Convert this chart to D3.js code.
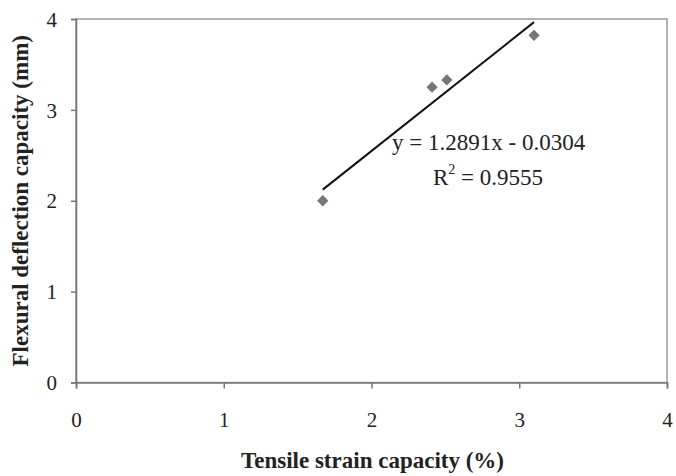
<!DOCTYPE html>
<html><head><meta charset="utf-8">
<script src="https://cdn.jsdelivr.net/npm/d3@7"></script>
<style>body{margin:0;background:#fff}svg{display:block}</style>
</head><body>
<script>
const xValues = [1.67, 2.41, 2.51, 3.10];
const yValues = [2.00, 3.25, 3.33, 3.82];
const xTicks = [0, 1, 2, 3, 4];
const yTicks = [0, 1, 2, 3, 4];
const slope = 1.2891, intercept = -0.0304;
const eqText = "y = 1.2891x - 0.0304";
const r2Value = "0.9555";
const xTitle = "Tensile strain capacity (%)";
const yTitle = "Flexural deflection capacity (mm)";

const W = 676, H = 476;
const m = {l: 76, r: 9, t: 19, b: 93.5};
const FONT = "'Liberation Serif','Times New Roman',serif";
const svg = d3.select("body").append("svg").attr("width", W).attr("height", H)
  .style("font-family", FONT);
const x = d3.scaleLinear().domain([0, 4]).range([m.l, W - m.r]);
const y = d3.scaleLinear().domain([0, 4]).range([H - m.b, m.t]);

// frame
svg.append("rect").attr("x", x(0)).attr("y", y(4)).attr("width", x(4) - x(0)).attr("height", y(0) - y(4))
  .attr("fill", "none").attr("stroke", "#999").attr("stroke-width", 1.5);

const xa = svg.append("g").attr("transform", `translate(0,${y(0)})`)
  .call(d3.axisBottom(x).tickValues(xTicks).tickSize(6).tickPadding(0).tickFormat(d3.format("d")));
const ya = svg.append("g").attr("transform", `translate(${x(0)},0)`)
  .call(d3.axisLeft(y).tickValues(yTicks).tickSize(5).tickPadding(0).tickFormat(d3.format("d")));
[xa, ya].forEach(a => {
  a.select(".domain").attr("stroke", "#777").attr("stroke-width", 1.6);
  a.selectAll(".tick line").attr("stroke", "#777").attr("stroke-width", 1.5);
  a.selectAll(".tick text").attr("fill", "#222").style("font-size", "21px")
    .style("font-family", FONT);
});
xa.selectAll(".tick text").attr("y", 44).attr("dy", null);
ya.selectAll(".tick text").attr("x", -19).attr("dy", "0.34em");

// trendline
const x1 = d3.min(xValues), x2 = d3.max(xValues);
svg.append("line").attr("x1", x(x1)).attr("y1", y(slope * x1 + intercept))
  .attr("x2", x(x2)).attr("y2", y(slope * x2 + intercept))
  .attr("stroke", "#111").attr("stroke-width", 2);

// points
const sym = d3.symbol().type(d3.symbolSquare).size(64);
svg.append("g").selectAll("path").data(xValues).join("path")
  .attr("d", sym)
  .attr("transform", (d, i) => `translate(${x(d)},${y(yValues[i])}) rotate(45)`)
  .attr("fill", "#777");

// equation
svg.append("text").attr("x", 392).attr("y", 150).style("font-size", "23px").attr("fill", "#222").text(eqText);
const r = svg.append("text").attr("x", 433).attr("y", 185).style("font-size", "23px").attr("fill", "#222");
r.append("tspan").text("R");
r.append("tspan").attr("dy", -11).style("font-size", "14px").text("2");
r.append("tspan").attr("dy", 11).text(" = " + r2Value);

// titles
svg.append("text").attr("x", (x(0) + x(4)) / 2 + 1).attr("y", 468).attr("text-anchor", "middle")
  .style("font-size", "23px").style("font-weight", "bold").attr("fill", "#222").text(xTitle);
svg.append("text").attr("transform", `translate(28,${(y(0) + y(4)) / 2}) rotate(-90)`)
  .attr("text-anchor", "middle").style("font-size", "23px").style("font-weight", "bold").attr("fill", "#222").text(yTitle);
</script>
</body></html>
